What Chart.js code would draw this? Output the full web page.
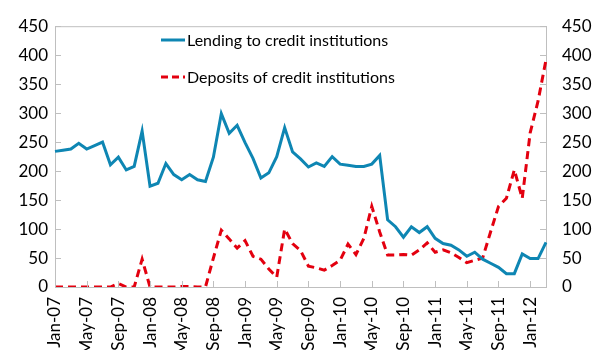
<!DOCTYPE html>
<html>
<head>
<meta charset="utf-8">
<script src="https://cdn.jsdelivr.net/npm/chart.js@4/dist/chart.umd.min.js"></script>
<style>
html,body{margin:0;padding:0;background:#fff;}
#wrap{width:592px;height:350px;}
</style>
</head>
<body>
<div id="wrap"><canvas id="c" width="592" height="350"></canvas></div>
<script>
const months = [
 "Jan-07","Feb-07","Mar-07","Apr-07","May-07","Jun-07","Jul-07","Aug-07","Sep-07","Oct-07","Nov-07","Dec-07",
 "Jan-08","Feb-08","Mar-08","Apr-08","May-08","Jun-08","Jul-08","Aug-08","Sep-08","Oct-08","Nov-08","Dec-08",
 "Jan-09","Feb-09","Mar-09","Apr-09","May-09","Jun-09","Jul-09","Aug-09","Sep-09","Oct-09","Nov-09","Dec-09",
 "Jan-10","Feb-10","Mar-10","Apr-10","May-10","Jun-10","Jul-10","Aug-10","Sep-10","Oct-10","Nov-10","Dec-10",
 "Jan-11","Feb-11","Mar-11","Apr-11","May-11","Jun-11","Jul-11","Aug-11","Sep-11","Oct-11","Nov-11","Dec-11",
 "Jan-12","Feb-12","Mar-12"
];
const lending = [
 234,236,238,248,238,244,250,211,224,202,208,269,
 174,179,213,194,185,194,185,182,224,299,265,279,
 249,222,188,197,225,275,233,221,207,214,208,225,
 212,210,208,208,212,227,116,104,86,104,94,104,
 84,75,72,64,53,60,48,41,34,23,23,57,
 49,49,77
];
const deposits = [
 0,0,0,0,0,0,0,0,6,0,0,48,
 0,0,0,0,1,1,0,0,50,98,83,67,
 80,53,48,31,17,100,75,63,36,33,29,37,
 46,74,56,84,139,95,55,55,56,55,64,76,
 60,64,59,51,42,46,50,95,139,153,202,153,
 266,321,392
];
const yTicks = [0,50,100,150,200,250,300,350,400,450];
const seriesNames = ["Lending to credit institutions","Deposits of credit institutions"];

const BLUE = "#0E86B3", RED = "#E3000F", AXIS = "#BFBFBF";
const FONT = "Lato";

const frame = {
  id: "frame",
  afterDatasetsDraw(chart) {
    const {ctx, chartArea: a, scales} = chart;
    ctx.save();
    ctx.strokeStyle = AXIS;
    ctx.lineWidth = 1;
    ctx.beginPath();
    ctx.moveTo(a.left, a.top + 0.5); ctx.lineTo(a.right, a.top + 0.5);
    yTicks.forEach(v => {
      const y = Math.round(scales.y.getPixelForValue(v)) + 0.5;
      ctx.moveTo(a.left, y); ctx.lineTo(a.left + 6, y);
      ctx.moveTo(a.right - 6, y); ctx.lineTo(a.right, y);
    });
    months.forEach((m, i) => {
      if (i % 4 === 0) {
        const x = Math.round(scales.x.getPixelForValue(i)) + 0.5;
        ctx.moveTo(x, a.bottom); ctx.lineTo(x, a.bottom - 6);
      }
    });
    ctx.stroke();
    // legend inside plot; font size chosen so the first label spans ~201px
    ctx.font = "20px " + FONT;
    const w20 = ctx.measureText(seriesNames[0]).width;
    const fs = Math.max(10, Math.min(22, 20 * 201 / w20));
    const items = [
      {name: seriesNames[0], color: BLUE, dash: [], y: 40},
      {name: seriesNames[1], color: RED, dash: [7, 4], y: 77}
    ];
    items.forEach(it => {
      ctx.strokeStyle = it.color;
      ctx.lineWidth = 3;
      ctx.setLineDash(it.dash);
      ctx.beginPath();
      ctx.moveTo(161, it.y); ctx.lineTo(185, it.y);
      ctx.stroke();
      ctx.setLineDash([]);
      ctx.fillStyle = "#000";
      ctx.font = fs.toFixed(1) + "px " + FONT;
      ctx.textBaseline = "middle";
      ctx.textAlign = "left";
      ctx.fillText(it.name, 187, it.y + 1);
    });
    ctx.restore();
  }
};

const tickFont = {family: FONT, size: 17};

new Chart(document.getElementById("c"), {
  type: "line",
  data: {
    labels: months,
    datasets: [
      {label: seriesNames[0], data: lending, borderColor: BLUE, borderWidth: 3, pointRadius: 0, tension: 0, yAxisID: "y"},
      {label: seriesNames[1], data: deposits, borderColor: RED, borderWidth: 3, borderDash: [8, 5], pointRadius: 0, tension: 0, yAxisID: "y"}
    ]
  },
  options: {
    responsive: false,
    animation: false,
    devicePixelRatio: 1,
    layout: {padding: {top: 14, left: 0, right: 0, bottom: 0}},
    plugins: {legend: {display: false}, tooltip: {enabled: false}},
    scales: {
      x: {
        offset: false,
        grid: {display: false, drawTicks: false},
        border: {color: AXIS},
        ticks: {
          autoSkip: false, maxRotation: 90, minRotation: 90, padding: 10,
          color: "#000", font: tickFont,
          callback: (v, i) => (i % 4 === 0 ? months[i] : "")
        },
        afterFit(s) { s.height = 63; }
      },
      y: {
        position: "left", min: 0, max: 450,
        grid: {display: false, drawTicks: false},
        border: {color: AXIS},
        ticks: {stepSize: 50, padding: 7, color: "#000", font: tickFont},
        afterFit(s) { s.width = 55; }
      },
      y2: {
        position: "right", min: 0, max: 450,
        grid: {display: false, drawTicks: false},
        border: {color: AXIS},
        ticks: {stepSize: 50, padding: 16, color: "#000", font: tickFont},
        afterFit(s) { s.width = 46; }
      }
    }
  },
  plugins: [frame]
});
</script>
</body>
</html>
